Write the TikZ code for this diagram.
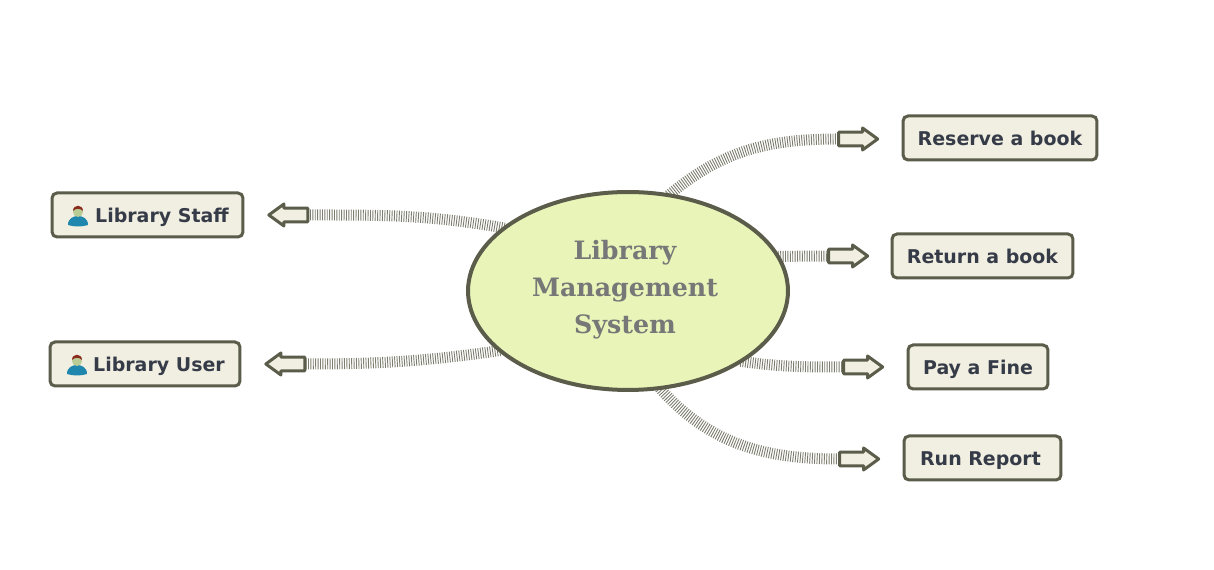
\documentclass[tikz,border=0pt]{standalone}
\usepackage{fontspec}
\setmainfont{DejaVu Sans}
\newfontfamily\titlefont{DejaVu Serif}
\usetikzlibrary{shapes.geometric,shapes.arrows,backgrounds}
\definecolor{edgeline}{HTML}{5B5C4A}
\definecolor{boxfill}{HTML}{F1EFE2}
\definecolor{hubfill}{HTML}{E8F4B8}
\definecolor{labeltext}{HTML}{363B48}
\definecolor{titletext}{HTML}{777777}
\definecolor{iconblue}{HTML}{1F86AE}
\definecolor{iconskin}{HTML}{B9CC96}
\definecolor{iconhair}{HTML}{8B2A1E}
\begin{document}
\begin{tikzpicture}[x=0.02cm, y=0.02cm,
		hub/.style={ellipse, draw=edgeline, fill=hubfill, line width=0.08cm, minimum width=6.40cm, minimum height=3.96cm, inner sep=0pt, outer sep=0pt},
		topic/.style={draw=edgeline, fill=boxfill, line width=0.06cm, rounded corners=0.1cm, minimum height=0.88cm, inner sep=0pt, text height=0.36cm, text depth=0.04cm, text=labeltext, font=\bfseries\fontsize{10.8}{12}\selectfont},
		pointer/.style={single arrow, draw=edgeline, fill=boxfill, line width=0.06cm, line join=round, minimum width=0.44cm, minimum height=0.78cm, single arrow head extend=0.08cm, single arrow tip angle=72, inner sep=0.1cm, outer sep=0pt},
		stripe/.style={edgeline!80, line width=0.22cm, dash pattern=on 0.018cm off 0.03cm},
		personicon/.pic={
			\fill[iconblue] (-10,-10) .. controls (-10,-3) and (-4,-1) .. (0,-1) .. controls (4,-1) and (10,-3) .. (10,-10) .. controls (4,-12) and (-4,-12) .. (-10,-10) -- cycle;
			\fill[iconskin] (0,3) circle (5);
			\fill[iconhair] (-5,4) .. controls (-5,11) and (5,11) .. (5,4) .. controls (2,7) and (-2,7) .. (-5,4) -- cycle;
		}]
		\useasboundingbox (0,0) rectangle (1214,570);
		% centre
		\node[hub] (system) at (628,279) {};
		\node[font=\titlefont\bfseries\fontsize{14.4}{21}\selectfont, text=titletext, align=center] (title) at (625,280) {Library\\Management\\System};
		% boxes on the right
		\node[topic, minimum width=3.88cm] (reserve) at (1000,432) {Reserve a book};
		\node[topic, minimum width=3.62cm] (return) at (982.5,314) {Return a book};
		\node[topic, minimum width=2.80cm] (fine) at (978,203) {Pay a Fine};
		\node[topic, minimum width=3.14cm] (report) at (982.5,112) {Run Report\kern0.08cm\relax};
		% boxes on the left
		\node[topic, minimum width=3.82cm] (staff) at (147.5,355) {\hspace{0.58cm}Library Staff};
		\node[topic, minimum width=3.80cm] (user) at (145,206) {\hspace{0.56cm}Library User};
		\pic at (78,355) {personicon};
		\pic at (77,206) {personicon};
		% arrows
		\node[pointer] (reservetip) at (853.5,431) {};
		\node[pointer] (returntip) at (843.5,314) {};
		\node[pointer] (finetip) at (858.5,203) {};
		\node[pointer] (reporttip) at (854.5,111) {};
		\node[pointer, shape border rotate=180] (stafftip) at (293,355) {};
		\node[pointer, shape border rotate=180] (usertip) at (290,206) {};
		% striped links
		\begin{scope}[on background layer]
			\draw[stripe] (system.67) to [out=40,in=180] (reservetip.tail);
			\draw[stripe] (system.13) -- (returntip.tail);
			\draw[stripe] (system.-32) to [out=-8,in=180] (finetip.tail);
			\draw[stripe] (system.-72) to [out=-48,in=180] (reporttip.tail);
			\draw[stripe] (system.153) to [out=170,in=0] (stafftip.tail);
			\draw[stripe] (system.205) to [out=188,in=0] (usertip.tail);
		\end{scope}
		\end{tikzpicture}
\end{document}
